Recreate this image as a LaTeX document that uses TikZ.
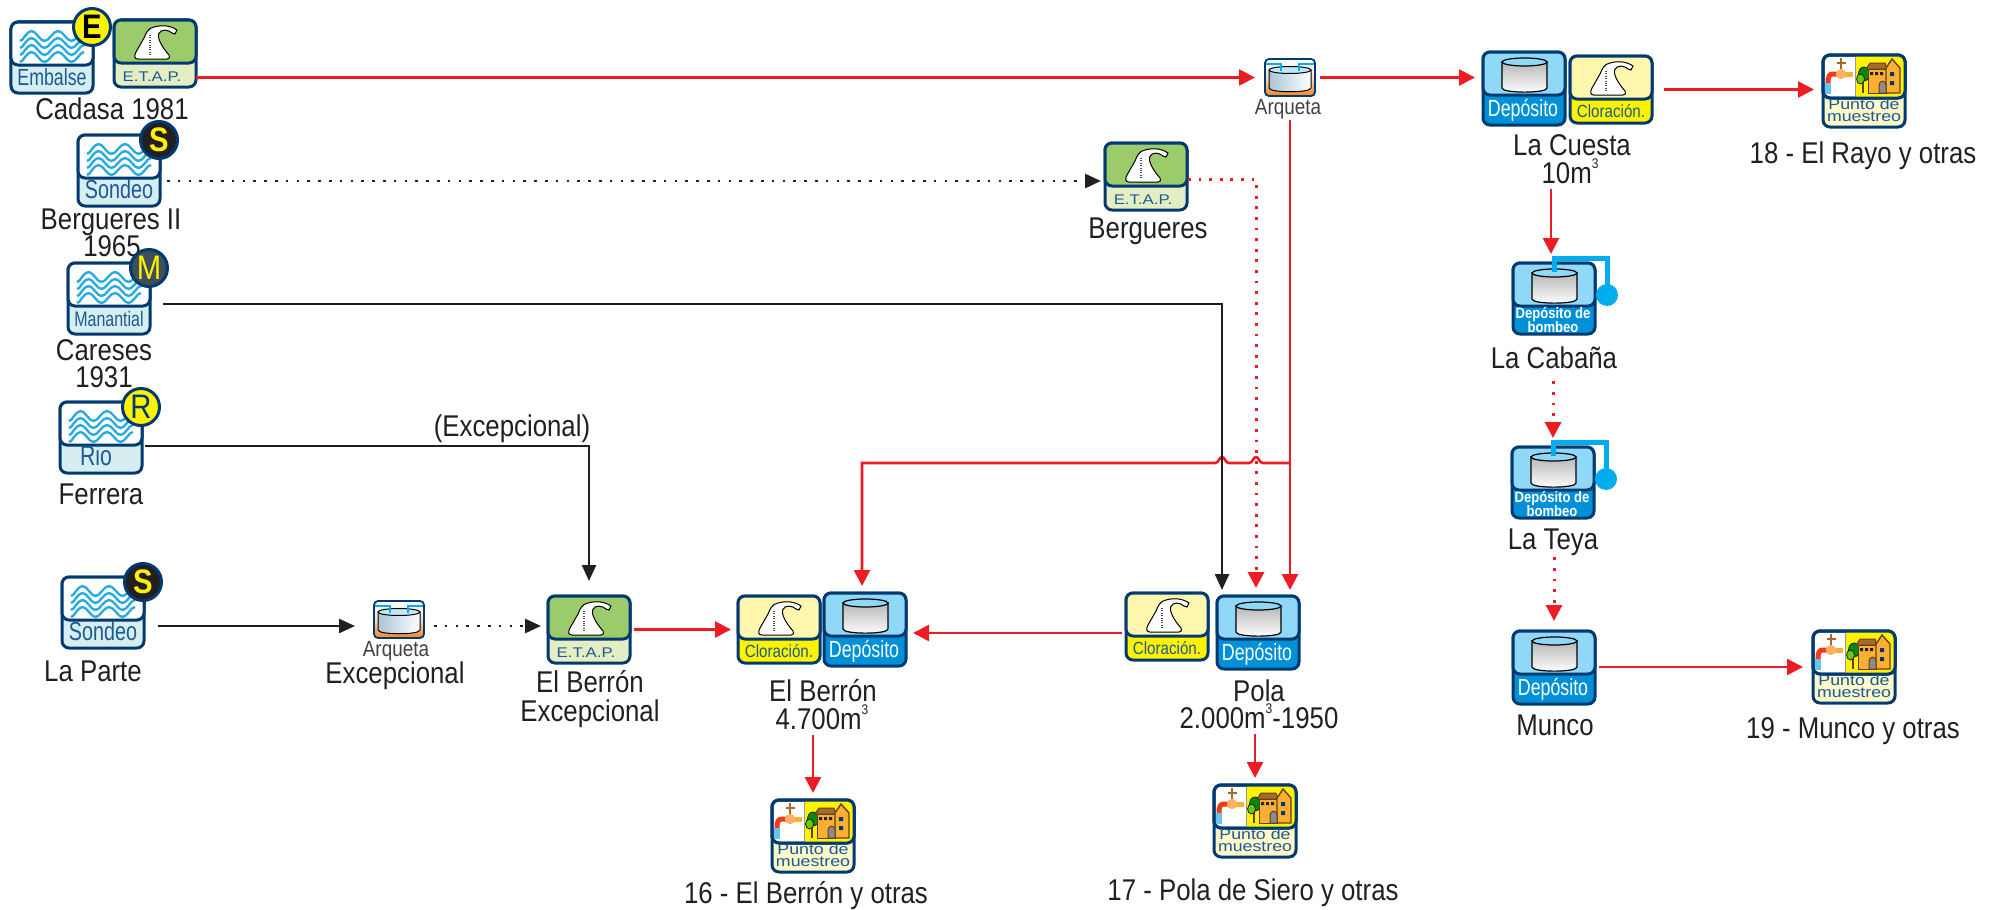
\documentclass[tikz,border=0pt]{standalone}
\usepackage{fontspec}
\setmainfont[FakeStretch=0.86]{Liberation Sans}
\newfontfamily\widefont[FakeStretch=1.2]{Liberation Sans}
\newfontfamily\slimfont[FakeStretch=0.76]{Liberation Sans}
\usetikzlibrary{arrows.meta}
\definecolor{navy}{HTML}{003A70}
\definecolor{inkblack}{HTML}{231F20}
\definecolor{pipered}{HTML}{ED1C24}
\definecolor{labelblue}{HTML}{1B5A96}
\definecolor{waveblue}{HTML}{29ABE2}
\definecolor{pumpblue}{HTML}{00AEEF}
\definecolor{palewater}{HTML}{D6EEF0}
\definecolor{etapgreen}{HTML}{9CCB6B}
\definecolor{etappale}{HTML}{E4EEC2}
\definecolor{depotsky}{HTML}{8FD8F8}
\definecolor{depotblue}{HTML}{0090D8}
\definecolor{chlorpale}{HTML}{FFF7AE}
\definecolor{chloryellow}{HTML}{FFF200}
\definecolor{samplepale}{HTML}{FFF8C8}
\definecolor{houseorange}{HTML}{FBB034}
\definecolor{roofbrown}{HTML}{A5692A}
\definecolor{sumporange}{HTML}{F58220}
\definecolor{sumptank}{HTML}{A9C6D6}
\definecolor{discslate}{HTML}{3F4F58}
\tikzset{
  boxbase/.style={draw=navy,line width=1.5pt,rounded corners=3.5pt,inner sep=0pt,outer sep=0pt,minimum width=41pt},
  boxedge/.style={draw=navy,line width=1.5pt,rounded corners=3.5pt},
  txt/.style={anchor=base,inner sep=0pt,text=inkblack,text depth=3pt,font=\fontsize{15}{15}\selectfont},
  intxt/.style={anchor=base,inner sep=0pt,text=labelblue,font=\fontsize{11}{11}\selectfont},
  redline/.style={draw=pipered,line width=1.3pt,-{Triangle[length=8pt,width=8pt]}},
  blackline/.style={draw=inkblack,line width=1.2pt,-{Triangle[length=8pt,width=7pt]}},
  reddot/.style={redline,line width=1.5pt,dash pattern=on 1.4pt off 3.9pt},
  blackdot/.style={blackline,line width=1.3pt,dash pattern=on 1.3pt off 4.1pt},
  wave/.style={draw=waveblue,line width=1.2pt},
  pump/.style={draw=pumpblue,line width=2.5pt}
}
\newcommand{\cubed}{\raisebox{7.5pt}{\fontsize{7}{7}\selectfont 3}}
% generic icon: name, x, y, height, split, top colour, bottom colour
\newcommand{\iconbox}[7]{%
  \node[boxbase,fill=#7,minimum height=#4*0.5pt] (#1) at (41,#4/2) {};
  \draw[boxedge,fill=#6] (0,0) rectangle (82,#5);
}
\newcommand{\flask}{%
  \draw[black,line width=0.5pt,fill=white] (24,39) .. controls (20,39) and (20,36) .. (22,32) -- (30,18)
    .. controls (32,13) and (34,8) .. (40,7) .. controls (47,5) and (56,5) .. (63,10) -- (61,14)
    -- (58,13) .. controls (55,10) and (47,8) .. (44.5,14) .. controls (43.5,18) and (47,26) .. (55,35)
    .. controls (56,38) and (55,39) .. (53,39) -- cycle;
  \draw[black!70,line width=1.3pt,dash pattern=on 0.5pt off 0.7pt] (36,15) -- (36,35);
}
\newcommand{\tank}{%
  \draw[black,line width=0.6pt,top color=black!28,bottom color=white] (19,10) -- (19,36)
    .. controls (19,41.5) and (64,41.5) .. (64,36) -- (64,10) -- cycle;
  \draw[black,line width=0.6pt,fill=depotsky] (41.5,10) ellipse [x radius=22.5,y radius=4];
}
% water source: name, x, y, text, letter, disc colour, letter colour
\newcommand{\source}[7]{%
  \begin{scope}[shift={(#2,#3)}]
    \iconbox{#1}{0}{0}{71}{43}{white}{palewater}
    \foreach \k in {0,...,3} {
      \pgfmathsetmacro{\yw}{14+7*\k}
      \draw[wave] (9,\yw+5) cos (14,\yw) sin (20.5,\yw-5) cos (27,\yw) sin (33.5,\yw+5) cos (40,\yw)
        sin (47,\yw-5) cos (54,\yw) sin (60.5,\yw+5) cos (67,\yw) sin (73,\yw-5);
    }
    \node[intxt] (#1txt) at (41,63) {\slimfont #4};
    \node[circle,draw=navy,line width=1.5pt,fill=#6,minimum size=18.5pt,inner sep=0pt,text=#7,
      font=\fontsize{17}{17}\selectfont\bfseries] (#1dsc) at (81,5) {#5};
  \end{scope}
}
\newcommand{\etap}[3]{%
  \begin{scope}[shift={(#2,#3)}]
    \iconbox{#1}{0}{0}{67}{43}{etapgreen}{etappale}
    \flask
    \node[intxt] (#1txt) at (38,61) {\widefont\fontsize{7}{7}\selectfont E.T.A.P.};
  \end{scope}
}
\newcommand{\chlor}[3]{%
  \begin{scope}[shift={(#2,#3)}]
    \iconbox{#1}{0}{0}{67}{43}{chlorpale}{chloryellow}
    \flask
    \node[intxt] (#1txt) at (41,61) {\fontsize{8.8}{9}\selectfont Cloración.};
  \end{scope}
}
\newcommand{\depot}[3]{%
  \begin{scope}[shift={(#2,#3)}]
    \iconbox{#1}{0}{0}{73}{43}{depotsky}{depotblue}
    \tank
    \node[intxt,text=white] (#1txt) at (40,64) {\slimfont\fontsize{11.7}{12}\selectfont Depósito};
  \end{scope}
}
\newcommand{\pumpdepot}[3]{%
  \begin{scope}[shift={(#2,#3)}]
    \iconbox{#1}{0}{0}{71}{43}{depotsky}{depotblue}
    \tank
    \node[intxt,text=white] (#1txta) at (40,55) {\fontsize{7.6}{8}\selectfont\bfseries Depósito de};
    \node[intxt,text=white] (#1txtb) at (40,69) {\fontsize{7.6}{8}\selectfont\bfseries bombeo};
    \draw[pump] (41,9) -- (41,-5) -- (94,-5) -- (94,30);
    \fill[pumpblue] (94,32) circle (5.5pt);
  \end{scope}
}
\newcommand{\sample}[3]{%
  \begin{scope}[shift={(#2,#3)}]
    \iconbox{#1}{0}{0}{72}{43}{white}{samplepale}
    \begin{scope}
      \clip[rounded corners=3.5pt] (0,0) rectangle (82,43);
      \fill[chloryellow] (32,0) rectangle (82,43);
    \end{scope}
    \draw[black!40,line width=0.5pt] (32,0) -- (32,43);
    \draw[boxedge] (0,0) rectangle (82,43);
    % tap
    \draw[roofbrown,line width=0.9pt] (18,3) -- (18,14) (14,8) -- (23,8);
    \draw[houseorange,line width=2.5pt] (18,19) -- (30,19);
    \draw[pipered!70!orange,line width=2.5pt] (18,19) -- (10,19) .. controls (6,19) and (5,22) .. (5,28);
    \draw[waveblue!70,line width=3pt] (4.5,28) -- (4.5,39);
    \fill[orange!60] (18,19) circle (2.6pt);
    % house
    \draw[roofbrown!60!black,line width=0.9pt] (40,26) -- (40,38);
    \draw[inkblack,line width=0.4pt,fill=green!55!black] (41,19) ellipse [x radius=5.5,y radius=7];
    \draw[inkblack,line width=0.4pt,fill=green!50!yellow!80!black] (37.5,24) ellipse [x radius=4,y radius=5];
    \draw[roofbrown!60!black,line width=0.5pt,fill=houseorange] (45,14) rectangle (63,38);
    \draw[roofbrown!60!black,line width=0.5pt,fill=roofbrown] (43,14) -- (47,8) -- (62,8) -- (64,14) -- cycle;
    \draw[roofbrown!60!black,line width=0.7pt,fill=houseorange] (63,38) -- (63,13) -- (69,4) -- (77,13) -- (77,38) -- cycle;
    \fill[inkblack] (47,17) rectangle (50,20) (52,17) rectangle (55,20) (57,17) rectangle (60,20);
    \fill[navy] (67,17) rectangle (71,21) (67,26) rectangle (71,30);
    \draw[roofbrown!60!black,line width=0.5pt,fill=black!45] (56,38) -- (56,30) .. controls (56,25) and (63,25) .. (63,30) -- (63,38) -- cycle;
    \node[intxt] (#1txta) at (41,54) {\widefont\fontsize{7.4}{8}\selectfont Punto de};
    \node[intxt] (#1txtb) at (41,66) {\widefont\fontsize{7.4}{8}\selectfont muestreo};
  \end{scope}
}
\newcommand{\sump}[3]{%
  \begin{scope}[shift={(#2,#3)}]
    \node[draw=navy,line width=0.9pt,rounded corners=2pt,inner sep=0pt,outer sep=0pt,minimum width=25pt,
      minimum height=18.5pt,top color=white,bottom color=sumporange,middle color=orange!25] (#1) at (25,18.5) {};
    \draw[black,line width=0.5pt,left color=sumptank,right color=white] (4,11) -- (4,29)
      .. controls (4,34) and (46,34) .. (46,29) -- (46,11) -- cycle;
    \draw[black,line width=0.5pt,fill=depotsky!60] (25,11) ellipse [x radius=21,y radius=3.5];
    \draw[pumpblue,line width=1.4pt] (1,5) -- (16,5) -- (16,12) (49,5) -- (34,5) -- (34,12);
  \end{scope}
}
\begin{document}
\begin{tikzpicture}[x=0.5pt,y=-0.5pt]
  \useasboundingbox (-1,-1) rectangle (2001,909);
  % sources
  \source{embalse}{10}{21}{\fontsize{11.7}{12}\selectfont Embalse}{E}{yellow}{black}
  \etap{etapcadasa}{113}{19}
  \node[txt] (cadasatxt) at (111,118) {Cadasa 1981};
  \source{sondeoberg}{77}{134}{\fontsize{13}{13}\selectfont Sondeo}{S}{inkblack}{yellow}
  \node[txt] (bergtxta) at (110,228) {Bergueres II};
  \node[txt] (bergtxtb) at (111,255) {1965};
  \source{manantial}{67}{262}{\fontsize{10.5}{11}\selectfont Manantial}{\mdseries M}{discslate}{yellow}
  \node[txt] (caresestxta) at (103,359) {Careses};
  \node[txt] (caresestxtb) at (103,386) {1931};
  \source{rio}{59}{401}{\fontsize{14}{14}\selectfont Rio\kern5pt}{\mdseries R}{yellow}{navy}
  \node[txt] (ferreratxt) at (100,503) {Ferrera};
  \source{sondeoparte}{61}{576}{\fontsize{13}{13}\selectfont Sondeo}{S}{inkblack}{yellow}
  \node[txt] (partetxt) at (92,680) {La Parte};
  % upper row
  \sump{arqueta}{1264}{58}
  \node[txt,text=inkblack!85,font=\fontsize{11}{11}\selectfont] (arquetatxt) at (1287,113) {Arqueta};
  \etap{etapberg}{1104}{142}
  \node[txt] (etapbergtxt) at (1147,237) {Bergueres};
  \depot{depcuesta}{1482}{51}
  \chlor{clorcuesta}{1569}{55}
  \node[txt] (cuestatxta) at (1571,154) {La Cuesta};
  \node[txt] (cuestatxtb) at (1569,182) {10m\cubed};
  \sample{puntorayo}{1822}{54}
  \node[txt] (rayotxt) at (1862,162) {18 - El Rayo y otras};
  % right column
  \pumpdepot{cabana}{1512}{262}
  \node[txt] (cabanatxt) at (1553,367) {La Cabaña};
  \pumpdepot{teya}{1511}{446}
  \node[txt] (teyatxt) at (1552,548) {La Teya};
  \depot{depmunco}{1512}{630}
  \node[txt] (muncotxt) at (1554,734) {Munco};
  \sample{puntomunco}{1812}{630}
  \node[txt] (muncoptxt) at (1852,737) {19 - Munco y otras};
  % lower row
  \sump{arqexc}{373}{600}
  \node[txt,text=inkblack!85,font=\fontsize{11}{11}\selectfont] (arqexctxta) at (395,655) {Arqueta};
  \node[txt] (arqexctxtb) at (394,682) {Excepcional};
  \etap{etapexc}{547}{595}
  \node[txt] (etapexctxta) at (589,691) {El Berrón};
  \node[txt] (etapexctxtb) at (589,720) {Excepcional};
  \chlor{clorberron}{737}{595}
  \depot{depberron}{823}{592}
  \node[txt] (berrontxta) at (822,700) {El Berrón};
  \node[txt] (berrontxtb) at (821,728) {4.700m\cubed};
  \sample{puntoberron}{771}{799}
  \node[txt] (berronptxt) at (805,902) {16 - El Berrón y otras};
  \chlor{clorpola}{1125}{592}
  \depot{deppola}{1216}{595}
  \node[txt] (polatxta) at (1258,700) {Pola};
  \node[txt] (polatxtb) at (1258,727) {2.000m\cubed-1950};
  \sample{puntopola}{1213}{784}
  \node[txt] (polaptxt) at (1252,899) {17 - Pola de Siero y otras};
  % free ends and bends
  \coordinate (polaneg) at (1221,595);
  \coordinate (polapun) at (1255,595);
  \coordinate (polaroj) at (1289,595);
  \coordinate (bergfila) at (0,180);
  \coordinate (puntfila) at (0,178);
  \coordinate (manfila) at (0,303);
  \coordinate (riofila) at (0,445);
  \coordinate (partefila) at (0,625);
  \coordinate (polafila) at (0,632);
  \coordinate (cruce) at (1289,462);
  \coordinate (giro) at (861,462);
  \coordinate (berrontop) at (861,592);
  % red mains
  \draw[redline,shorten >=5pt] (etapcadasa.east |- arqueta.west) -- (arqueta.west);
  \draw[redline,shorten <=2.5pt,shorten >=4pt] (arqueta.east) -- (arqueta.east -| depcuesta.west);
  \draw[redline,shorten <=6pt,shorten >=4.5pt] (clorcuesta.east) -- (clorcuesta.east -| puntorayo.west);
  \draw[redline,shorten >=4.5pt] (cuestatxtb.south -| cabana.north) ++(-3,0) -- ([xshift=-1.5pt]cabana.north);
  \draw[reddot,shorten <=3.5pt,shorten >=4.5pt] (cabanatxt.south -| teya.north) -- (teya.north);
  \draw[reddot,shorten <=1pt,shorten >=5pt] (teyatxt.south -| depmunco.north) -- (depmunco.north);
  \draw[redline,shorten <=2pt,shorten >=5pt] (depmunco.east |- puntomunco.west) -- (puntomunco.west);
  \draw[redline,shorten >=3pt] (arquetatxt.south -| polaroj) -- (polaroj);
  \draw[redline,shorten >=3.5pt] (cruce) -- (1262,462) .. controls (1258,462) and (1258,456) .. (1255,456)
    .. controls (1252,456) and (1252,462) .. (1248,462) -- (1228,462) .. controls (1224,462) and (1224,456) .. (1221,456)
    .. controls (1218,456) and (1218,462) .. (1214,462) -- (giro) -- (berrontop);
  \draw[redline,shorten <=2pt,shorten >=3.5pt] (clorpola.west |- polafila) -- (depberron.east |- polafila);
  \draw[redline,shorten <=2pt,shorten >=3.5pt] (etapexc.east) -- (etapexc.east -| clorberron.west);
  \draw[redline,shorten >=3.5pt] (berrontxtb.south -| puntoberron.north) -- (puntoberron.north);
  \draw[redline,shorten >=3.5pt] (polatxtb.south -| puntopola.north) -- (puntopola.north);
  \draw[reddot,shorten <=0.5pt,shorten >=4pt] (etapberg.east |- puntfila) -- (polapun |- puntfila) -- (polapun);
  % black mains
  \draw[blackdot,shorten <=3.5pt,shorten >=2pt] (sondeoberg.east |- bergfila) -- (etapberg.west |- bergfila);
  \draw[blackline,shorten <=6.5pt,shorten >=3pt] (manantial.east |- manfila) -- (polaneg |- manfila) -- (polaneg);
  \draw[blackline,shorten <=1.5pt,shorten >=7.5pt] (rio.east |- riofila) -| (etapexc.north);
  \node[txt] (riotxt) at (511,435) {(Excepcional)};
  \draw[blackline,shorten <=7pt,shorten >=9.5pt] (sondeoparte.east |- partefila) -- (arqexc.west |- partefila);
  \draw[blackdot,shorten <=5pt,shorten >=3.5pt] (arqexc.east |- partefila) -- (etapexc.west |- partefila);
\end{tikzpicture}
\end{document}
